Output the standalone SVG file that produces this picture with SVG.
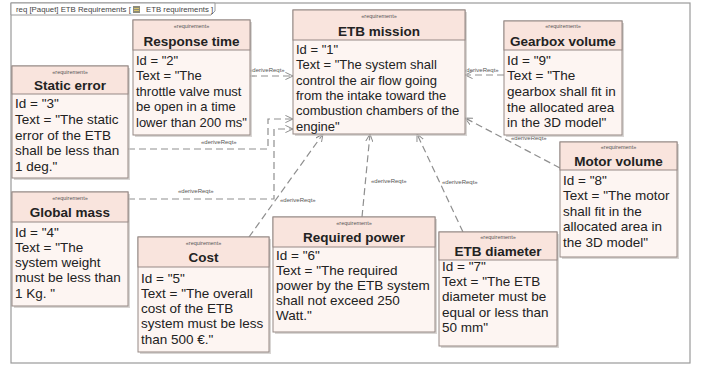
<svg xmlns="http://www.w3.org/2000/svg" width="705" height="368" viewBox="0 0 705 368">
<defs>
<marker id="open" viewBox="0 0 10 10" refX="9.5" refY="5" markerWidth="8" markerHeight="8" orient="auto" markerUnits="userSpaceOnUse">
<path d="M0,0.5 L9.5,5 L0,9.5" fill="none" stroke="#8a8a8a" stroke-width="1.2"/>
</marker>
</defs>
<style>
.frame{fill:#fff;stroke:#9a9a9a;stroke-width:1.2}
.tab{fill:#fff;stroke:#9a9a9a;stroke-width:1}
.tabt{font-family:"Liberation Sans",Arial,sans-serif;font-size:7.8px;fill:#444}
.sh{fill:#c9c4c2;opacity:.7}
.hd{fill:#f9e4dd;stroke:#968985;stroke-width:1}
.bd{fill:#fdf5f2;stroke:#968985;stroke-width:1}
.st{font-family:"Liberation Sans",Arial,sans-serif;font-size:5.5px;fill:#555;text-anchor:middle}
.nm{font-family:"Liberation Sans",Arial,sans-serif;font-size:13.5px;font-weight:bold;fill:#222;text-anchor:middle}
.tx{font-family:"Liberation Sans",Arial,sans-serif;font-size:13.5px;fill:#222}
.tx13{font-size:13px}
.cn{fill:none;stroke:#8f8f8f;stroke-width:1.2;stroke-dasharray:7 4;marker-end:url(#open)}
.lb{font-family:"Liberation Sans",Arial,sans-serif;font-size:6px;fill:#555}
</style>
<rect class="frame" x="11" y="3" width="679" height="360"/>
<path class="tab" d="M11,3 L215,3 L215,11 L211,15 L11,15 Z"/>
<text class="tabt" x="16" y="12">req [Paquet] ETB Requirements [</text>
<rect x="133" y="6" width="7" height="7" fill="#8c8c7a"/>
<rect x="134" y="8" width="5" height="1" fill="#d8c36a"/>
<rect x="134" y="10" width="5" height="1" fill="#d8c36a"/>
<text class="tabt" x="146" y="12">ETB requirements ]</text>

<g id="connectors">
<path class="cn" d="M250,76 L293,76"/>
<text class="lb" x="249" y="72">«deriveReqt»</text>
<path class="cn" d="M504,75 L465,75"/>
<text class="lb" x="463" y="72">«deriveReqt»</text>
<path class="cn" d="M128,149 L268,149 L268,119 L293,119"/>
<text class="lb" x="201" y="144">«deriveReqt»</text>
<path class="cn" d="M128,199 L274,199 L274,129 L293,129"/>
<text class="lb" x="178" y="193">«deriveReqt»</text>
<path class="cn" d="M249,237 L323,134"/>
<text class="lb" x="280" y="202">«deriveReqt»</text>
<path class="cn" d="M362,217 L370,134"/>
<text class="lb" x="371" y="183">«deriveReqt»</text>
<path class="cn" d="M463,232 L417,134"/>
<text class="lb" x="442" y="184">«deriveReqt»</text>
<path class="cn" d="M560,168 L465,118"/>
<text class="lb" x="511" y="140">«deriveReqt»</text>
</g>

<g id="etb-mission">
<rect class="sh" x="295" y="12" width="172" height="124"/>
<rect class="bd" x="293" y="10" width="172" height="124"/>
<rect class="hd" x="293" y="10" width="172" height="30"/>
<text class="st" x="379" y="17.5">«requirement»</text>
<text class="nm" x="379" y="36">ETB mission</text>
<text class="tx tx13" x="296" y="54">Id = "1"<tspan x="296" dy="15.3">Text = "The system shall</tspan><tspan x="296" dy="15.3">control the air flow going</tspan><tspan x="296" dy="15.3">from the intake toward the</tspan><tspan x="296" dy="15.3">combustion chambers of the</tspan><tspan x="296" dy="15.3">engine"</tspan></text>
</g>

<g id="response-time">
<rect class="sh" x="135" y="22" width="117" height="115"/>
<rect class="bd" x="133" y="20" width="117" height="115"/>
<rect class="hd" x="133" y="20" width="117" height="30"/>
<text class="st" x="191.5" y="27.5">«requirement»</text>
<text class="nm" x="191.5" y="45.5">Response time</text>
<text class="tx tx13" x="136" y="64.5">Id = "2"<tspan x="136" dy="15.6">Text = "The</tspan><tspan x="136" dy="15.6">throttle valve must</tspan><tspan x="136" dy="15.6">be open in a time</tspan><tspan x="136" dy="15.6">lower than 200 ms"</tspan></text>
</g>

<g id="static-error">
<rect class="sh" x="14" y="68" width="116" height="112"/>
<rect class="bd" x="12" y="66" width="116" height="112"/>
<rect class="hd" x="12" y="66" width="116" height="28"/>
<text class="st" x="70" y="73.5">«requirement»</text>
<text class="nm" x="70" y="90">Static error</text>
<text class="tx" x="15" y="108">Id = "3"<tspan x="15" dy="15.8">Text = "The static</tspan><tspan x="15" dy="15.8">error of the ETB</tspan><tspan x="15" dy="15.8">shall be less than</tspan><tspan x="15" dy="15.8">1 deg."</tspan></text>
</g>

<g id="global-mass">
<rect class="sh" x="14" y="194" width="116" height="114"/>
<rect class="bd" x="12" y="192" width="116" height="114"/>
<rect class="hd" x="12" y="192" width="116" height="30"/>
<text class="st" x="70" y="199.5">«requirement»</text>
<text class="nm" x="70" y="217">Global mass</text>
<text class="tx" x="15" y="236.5">Id = "4"<tspan x="15" dy="15.3">Text = "The</tspan><tspan x="15" dy="15.3">system weight</tspan><tspan x="15" dy="15.3">must be less than</tspan><tspan x="15" dy="15.3">1 Kg. "</tspan></text>
</g>

<g id="cost">
<rect class="sh" x="140" y="239" width="131" height="115"/>
<rect class="bd" x="138" y="237" width="131" height="115"/>
<rect class="hd" x="138" y="237" width="131" height="30"/>
<text class="st" x="203.5" y="244.5">«requirement»</text>
<text class="nm" x="203.5" y="262">Cost</text>
<text class="tx" x="141" y="282.5">Id = "5"<tspan x="141" dy="15.3">Text = "The overall</tspan><tspan x="141" dy="15.3">cost of the ETB</tspan><tspan x="141" dy="15.3">system must be less</tspan><tspan x="141" dy="15.3">than 500 €."</tspan></text>
</g>

<g id="required-power">
<rect class="sh" x="275" y="219" width="162" height="115"/>
<rect class="bd" x="273" y="217" width="162" height="115"/>
<rect class="hd" x="273" y="217" width="162" height="30"/>
<text class="st" x="354" y="224.5">«requirement»</text>
<text class="nm" x="354" y="242">Required power</text>
<text class="tx" x="276" y="259.5">Id = "6"<tspan x="276" dy="15.2">Text = "The required</tspan><tspan x="276" dy="15.2">power by the ETB system</tspan><tspan x="276" dy="15.2">shall not exceed 250</tspan><tspan x="276" dy="15.2">Watt."</tspan></text>
</g>

<g id="etb-diameter">
<rect class="sh" x="441" y="234" width="118" height="114"/>
<rect class="bd" x="439" y="232" width="118" height="114"/>
<rect class="hd" x="439" y="232" width="118" height="28"/>
<text class="st" x="498" y="239">«requirement»</text>
<text class="nm" x="498" y="256">ETB diameter</text>
<text class="tx" x="442" y="270.5">Id = "7"<tspan x="442" dy="15.4">Text = "The ETB</tspan><tspan x="442" dy="15.4">diameter must be</tspan><tspan x="442" dy="15.4">equal or less than</tspan><tspan x="442" dy="15.4">50 mm"</tspan></text>
</g>

<g id="motor-volume">
<rect class="sh" x="562" y="144" width="117" height="115"/>
<rect class="bd" x="560" y="142" width="117" height="115"/>
<rect class="hd" x="560" y="142" width="117" height="28"/>
<text class="st" x="618.5" y="149">«requirement»</text>
<text class="nm" x="618.5" y="166">Motor volume</text>
<text class="tx" x="563" y="184.5">Id = "8"<tspan x="563" dy="15.5">Text = "The motor</tspan><tspan x="563" dy="15.5">shall fit in the</tspan><tspan x="563" dy="15.5">allocated area in</tspan><tspan x="563" dy="15.5">the 3D model"</tspan></text>
</g>

<g id="gearbox-volume">
<rect class="sh" x="506" y="23" width="118" height="114"/>
<rect class="bd" x="504" y="21" width="118" height="114"/>
<rect class="hd" x="504" y="21" width="118" height="29"/>
<text class="st" x="563" y="28">«requirement»</text>
<text class="nm" x="563" y="46">Gearbox volume</text>
<text class="tx" x="507" y="64.5">Id = "9"<tspan x="507" dy="15.7">Text = "The</tspan><tspan x="507" dy="15.7">gearbox shall fit in</tspan><tspan x="507" dy="15.7">the allocated area</tspan><tspan x="507" dy="15.7">in the 3D model"</tspan></text>
</g>
</svg>
